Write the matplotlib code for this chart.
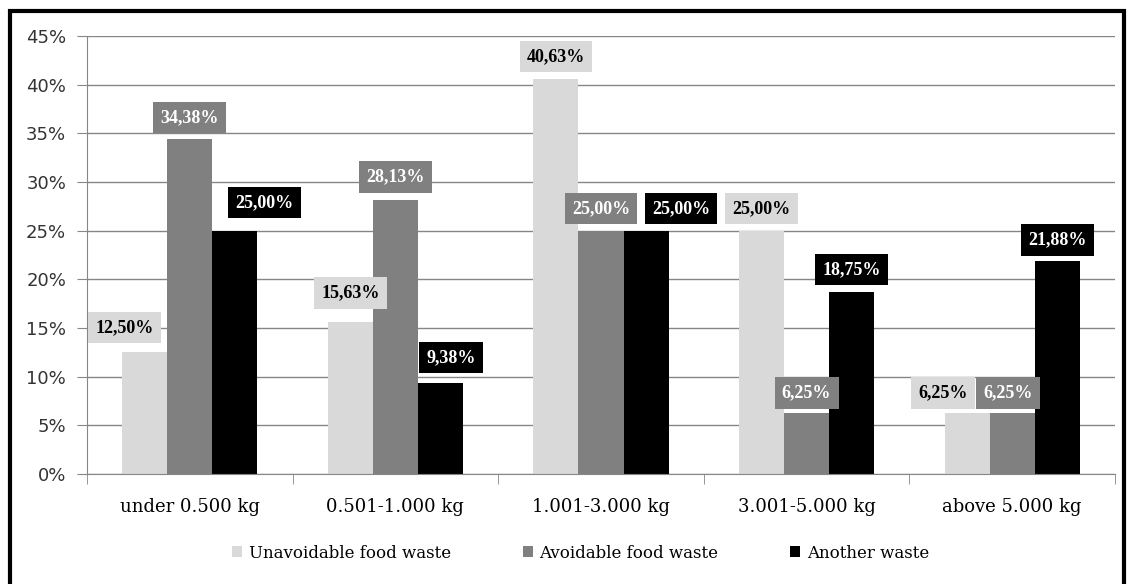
import matplotlib
matplotlib.use("Agg")
import matplotlib.pyplot as plt
from matplotlib.patches import Rectangle
from matplotlib.ticker import FixedLocator, PercentFormatter
import numpy as np

categories = ["under 0.500 kg", "0.501-1.000 kg", "1.001-3.000 kg",
              "3.001-5.000 kg", "above 5.000 kg"]
series_names = ["Unavoidable food waste", "Avoidable food waste", "Another waste"]
unavoidable = [12.50, 15.63, 40.63, 25.00, 6.25]
avoidable = [34.38, 28.13, 25.00, 6.25, 6.25]
another = [25.00, 9.38, 25.00, 18.75, 21.88]

colors = ["#d9d9d9", "#808080", "#000000"]
label_text_colors = ["black", "white", "white"]

# manual nudges of the data labels (pixels), as placed in the original chart
label_dx = [
    [-20, 0, 0, 0, -24],
    [0, 0, 0, 0, -4],
    [30, 11, 35, 0, 0],
]
label_dy = [
    [25, 29, 22, 22, 20],
    [22, 23, 22, 20, 20],
    [28, 25, 22, 22, 21],
]

W, H = 1132, 584
fig = plt.figure(figsize=(W / 100, H / 100), dpi=100)
ax = fig.add_axes([87 / W, 1 - 474 / H, (1115 - 87) / W, (474 - 36) / H])

x = np.arange(len(categories))
width = 0.219
for i, (vals, name) in enumerate(zip([unavoidable, avoidable, another], series_names)):
    pos = x + (i - 1) * width
    bars = ax.bar(pos, vals, width, color=colors[i], label=name, zorder=2)
    for j, (b, v) in enumerate(zip(bars, vals)):
        ax.annotate(
            f"{v:.2f}%".replace(".", ","),
            (b.get_x() + b.get_width() / 2, v),
            xytext=(label_dx[i][j], label_dy[i][j]),
            textcoords="offset pixels",
            ha="center", va="center",
            fontsize=13, fontweight="bold", family="Liberation Serif",
            color=label_text_colors[i],
            bbox=dict(boxstyle="square,pad=0.4", fc=colors[i], ec="none"),
            zorder=4,
        )

ax.set_xlim(-0.5, len(categories) - 0.5)
ax.set_ylim(0, 45)
ax.yaxis.set_major_locator(FixedLocator(np.arange(0, 46, 5)))
ax.yaxis.set_major_formatter(PercentFormatter(decimals=0))
ax.grid(axis="y", color="#868686", linewidth=1, zorder=0)
ax.set_axisbelow(True)

ax.set_xticks(x)
ax.set_xticklabels(categories, family="DejaVu Serif", fontsize=13)
ax.set_xticks(np.arange(-0.5, len(categories)), minor=True)
ax.tick_params(axis="x", which="major", length=0, pad=17)
ax.tick_params(axis="x", which="minor", length=7, color="#868686")
ax.tick_params(axis="y", length=7, color="#868686", labelsize=13, pad=8,
               labelcolor="#333333")

for s in ["top", "right"]:
    ax.spines[s].set_visible(False)
for s in ["left", "bottom"]:
    ax.spines[s].set_color("#868686")

fig.legend(loc="center", bbox_to_anchor=(0.513, 0.053), ncol=3, frameon=False,
           handlelength=0.6, handleheight=0.6, handletextpad=0.4,
           columnspacing=4.3, prop={"family": "DejaVu Serif", "size": 12})

# outer frame of the chart
fig.patches.append(Rectangle((9.5 / W, -0.05), (1124 - 9.5) / W, 1.05 - 10.5 / H,
                             transform=fig.transFigure, fill=False,
                             edgecolor="black", linewidth=3))

fig.savefig("out.png", dpi=100)
